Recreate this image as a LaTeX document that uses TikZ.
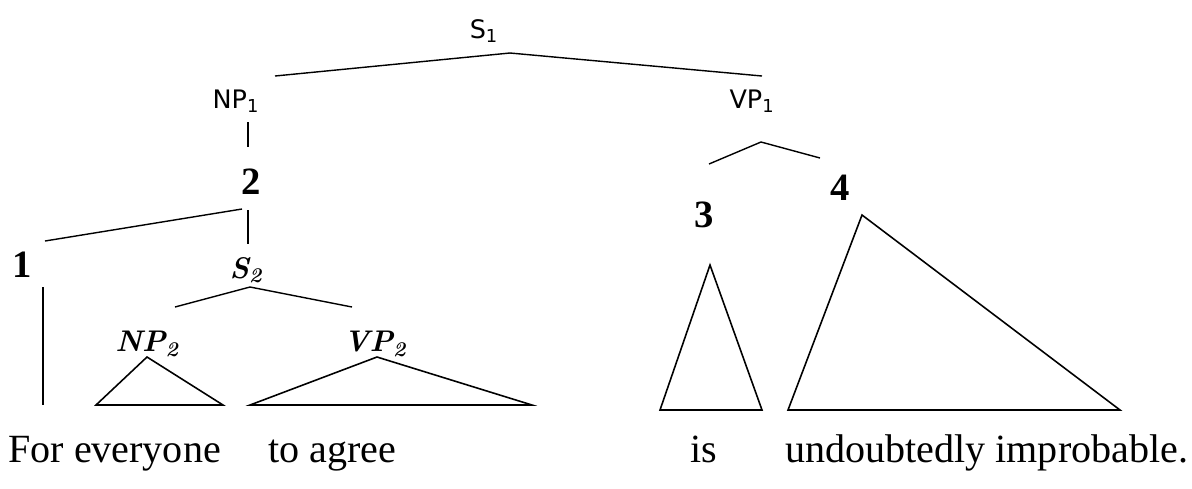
\documentclass[tikz,border=0pt]{standalone}
\usepackage{fontspec}
\setmainfont{Liberation Serif}
\newfontfamily\catfont{DejaVu Sans}
\newfontfamily\symfont{lmroman10-bolditalic.otf}
\usetikzlibrary{positioning}

\begin{document}
\begin{tikzpicture}[x=0.02cm, y=-0.02cm,
        cat/.style={font=\catfont\fontsize{14.5}{17}\selectfont, inner sep=0pt},
        num/.style={font=\bfseries\fontsize{22}{26}\selectfont, inner sep=0pt},
        sym/.style={font=\symfont\fontsize{17}{20}\selectfont, inner sep=0pt},
        word/.style={font=\fontsize{22.8}{27}\selectfont, inner sep=0pt, anchor=base west},
        branch/.style={line width=0.8pt},
        tri/.style={line width=0.9pt, line join=miter}]
        \useasboundingbox (0,0) rectangle (1192,488);

        % category labels
        \node[cat] (s1) at (484,31) {S\textsubscript{1}};
        \node[cat] (np1) at (236,101) {NP\textsubscript{1}};
        \node[cat] (vp1) at (752,101) {VP\textsubscript{1}};
        \node[num] (two) at (251,182) {2};
        \node[num] (one) at (22,265) {1};
        \node[sym] (s2) at (246,270) {S\textsubscript{2}};
        \node[sym] (np2) at (147,344) {NP\textsubscript{2}};
        \node[sym] (vp2) at (375,344) {VP\textsubscript{2}};
        \node[num] (three) at (704,215) {3};
        \node[num] (four) at (840,188) {4};

        % words
        \node[word] (w1) at (8,462) {For everyone};
        \node[word] (w2) at (268,462) {to agree};
        \node[word] (w3) at (690,462) {is};
        \node[word] (w4) at (785,462) {undoubtedly improbable.};

        % branch points
        \coordinate (s1top) at (510,53);
        \coordinate (np1up) at (275,76);
        \coordinate (vp1up) at (762,76);
        \coordinate (np1dn) at (248,122);
        \coordinate (twoup) at (248,147);
        \coordinate (twodn) at (242,209);
        \coordinate (oneup) at (45,241);
        \coordinate (twost) at (248,210);
        \coordinate (s2up) at (248,244);
        \coordinate (onedn) at (43,287);
        \coordinate (onebot) at (43,405);
        \coordinate (s2dn) at (250,287);
        \coordinate (np2up) at (175,307);
        \coordinate (vp2up) at (352,307);
        \coordinate (vp1dn) at (761,142);
        \coordinate (threeup) at (709,164);
        \coordinate (fourup) at (820,158);

        \draw[branch] (np1up) -- (s1top) -- (vp1up);
        \draw[branch] (np1dn) -- (twoup);
        \draw[branch] (oneup) -- (twodn);
        \draw[branch] (twost) -- (s2up);
        \draw[branch] (onedn) -- (onebot);
        \draw[branch] (np2up) -- (s2dn) -- (vp2up);
        \draw[branch] (threeup) -- (vp1dn) -- (fourup);

        % triangles
        \coordinate (np2a) at (147,357);
        \coordinate (np2l) at (96,405);
        \coordinate (np2r) at (223,405);
        \coordinate (vp2a) at (377,357);
        \coordinate (vp2l) at (250,405);
        \coordinate (vp2r) at (532,405);
        \coordinate (t3a) at (710,265);
        \coordinate (t3l) at (660,410);
        \coordinate (t3r) at (762,410);
        \coordinate (t4a) at (862,215);
        \coordinate (t4l) at (788,410);
        \coordinate (t4r) at (1120,410);

        \draw[tri] (np2a) -- (np2l) -- (np2r) -- cycle;
        \draw[tri] (vp2a) -- (vp2l) -- (vp2r) -- cycle;
        \draw[tri] (t3a) -- (t3l) -- (t3r) -- cycle;
        \draw[tri] (t4a) -- (t4l) -- (t4r) -- cycle;
\end{tikzpicture}
\end{document}
